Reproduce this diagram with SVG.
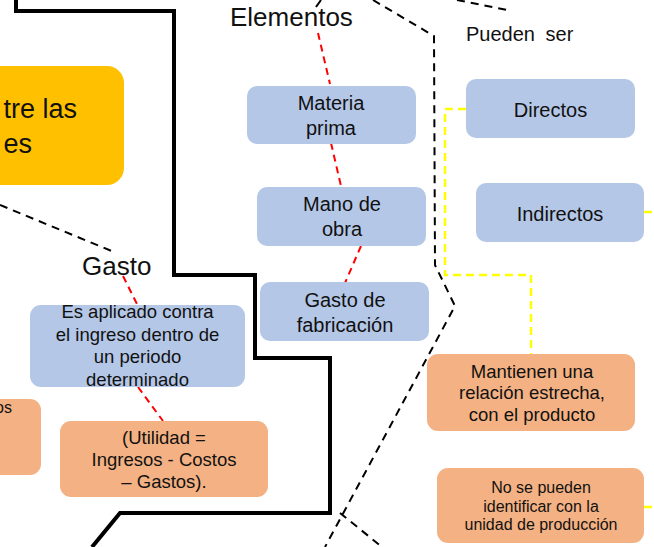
<svg xmlns="http://www.w3.org/2000/svg" width="654" height="547" viewBox="0 0 654 547">
<style>
text{font-family:"Liberation Sans",Arial,sans-serif;fill:#111;}
.blue{fill:#B4C7E7;}
.orange{fill:#F4B183;}
.gold{fill:#FFC000;}
.red{stroke:#FF0000;stroke-width:2;stroke-dasharray:7,5;fill:none;}
.blk{stroke:#000;stroke-width:2;stroke-dasharray:8,6;fill:none;}
.yel{stroke:#FFFF00;stroke-width:2.5;stroke-dasharray:8,5;fill:none;}
.thick{stroke:#000;stroke-width:4;fill:none;stroke-linejoin:miter;}
.c{text-anchor:middle;}
</style>
<rect width="654" height="547" fill="#fff"/>
<g id="connectors">
<path class="thick" d="M16,0 L16,11 L174,11 L174,275 L255,275 L255,358 L330,358 L330,513 L120,513 L92,547"/>
<path class="blk" d="M373,0 L434,36 L435,265 L455,306 L325,547"/>
<path class="blk" d="M457,0 L507,10"/>
<path class="blk" d="M0,205 L114,252"/>
<path class="blk" d="M340,513 L382,547"/>
<path d="M321,0 L316,7" stroke="#000" stroke-width="2" fill="none"/>
<path class="red" d="M318,33 L330,84"/>
<path class="red" d="M331,143 L341,186"/>
<path class="red" d="M361,246 L345,283"/>
<path class="red" d="M123,276 L138,306"/>
<path class="red" d="M138,387 L163,421"/>
<path class="yel" d="M466,109 L445,109 L445,275 L531,275 L531,354"/>
<path class="yel" d="M644,212 L654,212"/>
<path class="yel" d="M644,507 L654,507"/>
</g>
<g id="node-entre">
<rect class="gold" x="-30" y="66" width="154" height="119" rx="17"/>
<text x="77" y="118" font-size="27" text-anchor="end">tre las</text>
<text x="32" y="153" font-size="27" text-anchor="end">es</text>
</g>
<g id="label-elementos"><text x="230" y="26" font-size="26">Elementos</text></g>
<g id="label-pueden"><text x="466" y="41" font-size="20" word-spacing="5">Pueden ser</text></g>
<g id="label-gasto"><text x="82" y="275" font-size="26">Gasto</text></g>
<g id="node-materia">
<rect class="blue" x="247" y="86" width="169" height="58" rx="10"/>
<text class="c" x="331" y="110" font-size="20">Materia</text>
<text class="c" x="331" y="135" font-size="20">prima</text>
</g>
<g id="node-mano">
<rect class="blue" x="257" y="187" width="169" height="59" rx="10"/>
<text class="c" x="342" y="211" font-size="20">Mano de</text>
<text class="c" x="342" y="236" font-size="20">obra</text>
</g>
<g id="node-fabricacion">
<rect class="blue" x="260" y="282" width="169" height="59" rx="10"/>
<text class="c" x="345" y="307" font-size="20">Gasto de</text>
<text class="c" x="345" y="332" font-size="20">fabricación</text>
</g>
<g id="node-directos">
<rect class="blue" x="466" y="79" width="169" height="59" rx="10"/>
<text class="c" x="550.5" y="117" font-size="20">Directos</text>
</g>
<g id="node-indirectos">
<rect class="blue" x="476" y="183" width="168" height="59" rx="10"/>
<text class="c" x="560" y="221" font-size="20">Indirectos</text>
</g>
<g id="node-aplicado">
<rect class="blue" x="30" y="305" width="215" height="82" rx="11"/>
<text class="c" x="137.5" y="318" font-size="18.5">Es aplicado contra</text>
<text class="c" x="137.5" y="341" font-size="18.5">el ingreso dentro de</text>
<text class="c" x="137.5" y="363" font-size="18.5">un periodo</text>
<text class="c" x="137.5" y="386" font-size="18.5">determinado</text>
</g>
<g id="node-left-partial">
<rect class="orange" x="-30" y="399" width="71" height="76" rx="11"/>
<text x="12" y="413" font-size="16" text-anchor="end">os</text>
</g>
<g id="node-utilidad">
<rect class="orange" x="60" y="421" width="208" height="76" rx="11"/>
<text class="c" x="164" y="444" font-size="18.5">(Utilidad =</text>
<text class="c" x="164" y="466" font-size="18.5">Ingresos - Costos</text>
<text class="c" x="164" y="488" font-size="18.5">– Gastos).</text>
</g>
<g id="node-mantienen">
<rect class="orange" x="427" y="354" width="208" height="77" rx="11"/>
<text class="c" x="532" y="378" font-size="18.5">Mantienen una</text>
<text class="c" x="532" y="399" font-size="18.5">relación estrecha,</text>
<text class="c" x="532" y="421" font-size="18.5">con el producto</text>
</g>
<g id="node-nosepueden">
<rect class="orange" x="437" y="468" width="207" height="75" rx="11"/>
<text class="c" x="541" y="493" font-size="16">No se pueden</text>
<text class="c" x="541" y="512" font-size="16">identificar con la</text>
<text class="c" x="541" y="530" font-size="16">unidad de producción</text>
</g>
</svg>
